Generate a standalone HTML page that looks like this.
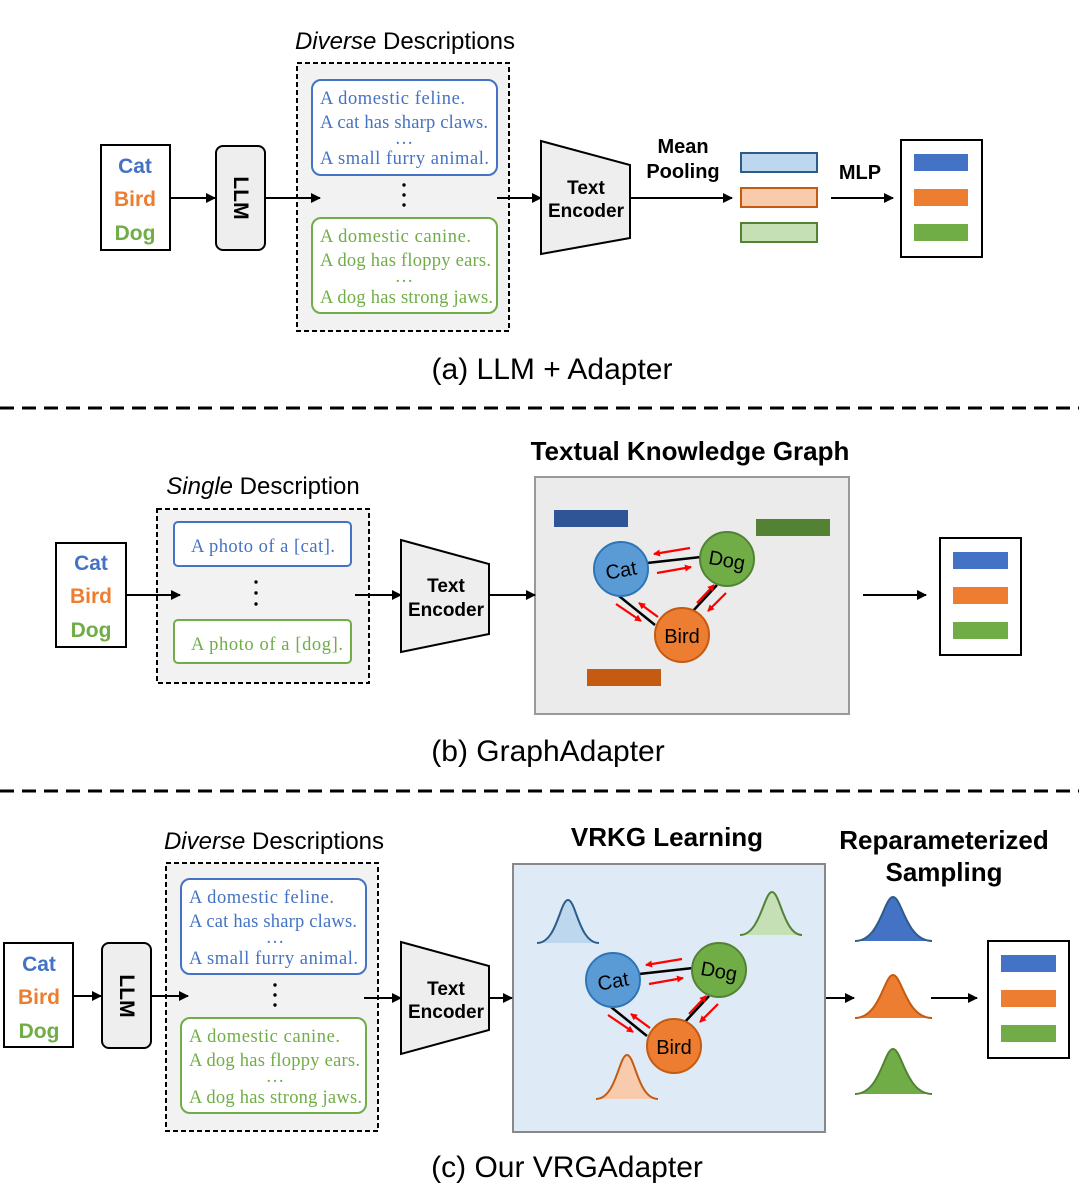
<!DOCTYPE html>
<html><head><meta charset="utf-8"><style>
html,body{margin:0;padding:0;background:#fff}
svg{display:block}
.s{font-family:"Liberation Sans",sans-serif}
.b{font-family:"Liberation Sans",sans-serif;font-weight:bold}
.r{font-family:"Liberation Serif",serif;font-size:18.5px}
</style></head><body>
<svg width="1079" height="1187" viewBox="0 0 1079 1187" xmlns="http://www.w3.org/2000/svg">
<defs>
<marker id="ah" markerWidth="10" markerHeight="10" refX="9" refY="5" orient="auto" markerUnits="userSpaceOnUse"><path d="M0,0 L10,5 L0,10 z" fill="#000"/></marker>
<marker id="rh" markerWidth="7" markerHeight="7" refX="6" refY="3.5" orient="auto" markerUnits="userSpaceOnUse"><path d="M0,0 L7,3.5 L0,7 z" fill="#f00"/></marker>
<g id="graph">
<line x1="647" y1="563" x2="701" y2="557" stroke="#000" stroke-width="2.5"/>
<line x1="619" y1="596" x2="655" y2="625" stroke="#000" stroke-width="2.5"/>
<line x1="717" y1="585" x2="692" y2="612" stroke="#000" stroke-width="2.5"/>
<g stroke="#f00" stroke-width="2.2" marker-end="url(#rh)">
<line x1="690" y1="548" x2="654" y2="554"/>
<line x1="657" y1="573" x2="691" y2="567"/>
<line x1="616" y1="604" x2="641" y2="621"/>
<line x1="658" y1="617" x2="639" y2="603"/>
<line x1="697" y1="603" x2="714" y2="585"/>
<line x1="726" y1="593" x2="708" y2="611"/>
</g>
<circle cx="621" cy="569" r="27" fill="#5b9bd5" stroke="#2e75b6" stroke-width="2"/>
<circle cx="727" cy="559" r="27" fill="#70ad47" stroke="#548235" stroke-width="2"/>
<circle cx="682" cy="635" r="27" fill="#ed7d31" stroke="#c55a11" stroke-width="2"/>
<text x="621" y="577" text-anchor="middle" class="s" font-size="20" transform="rotate(-10 621 570)">Cat</text>
<text x="727" y="567" text-anchor="middle" class="s" font-size="20" transform="rotate(10 727 560)">Dog</text>
<text x="682" y="643" text-anchor="middle" class="s" font-size="20">Bird</text>
</g>
</defs>

<!-- ===== (a) ===== -->
<text x="405" y="49" text-anchor="middle" class="s" font-size="24"><tspan font-style="italic">Diverse</tspan> Descriptions</text>
<rect x="101" y="145" width="69" height="105" fill="#fff" stroke="#000" stroke-width="2"/>
<text x="135" y="173" text-anchor="middle" class="b" font-size="21" fill="#4472c4">Cat</text>
<text x="135" y="206" text-anchor="middle" class="b" font-size="21" fill="#ed7d31">Bird</text>
<text x="135" y="240" text-anchor="middle" class="b" font-size="21" fill="#70ad47">Dog</text>
<rect x="216" y="146" width="49" height="104" rx="7" fill="#eee" stroke="#000" stroke-width="2"/>
<text x="0" y="0" text-anchor="middle" class="b" font-size="21" transform="translate(234 198) rotate(90)">LLM</text>
<rect x="297" y="63" width="212" height="268" fill="#f2f2f2" stroke="#000" stroke-width="2" stroke-dasharray="5,3"/>
<rect x="312" y="80" width="185" height="95" rx="9" fill="#fff" stroke="#4472c4" stroke-width="2"/>
<g class="r" fill="#4472c4"><text x="320" y="104" textLength="145">A domestic feline.</text><text x="320" y="128" textLength="168">A cat has sharp claws.</text><text x="404" y="144" text-anchor="middle">…</text><text x="320" y="164" textLength="169">A small furry animal.</text></g>
<g fill="#000"><circle cx="404" cy="185" r="1.7"/><circle cx="404" cy="195" r="1.7"/><circle cx="404" cy="205" r="1.7"/></g>
<rect x="312" y="218" width="185" height="95" rx="9" fill="#fff" stroke="#70ad47" stroke-width="2"/>
<g class="r" fill="#70ad47"><text x="320" y="242" textLength="151">A domestic canine.</text><text x="320" y="266" textLength="171">A dog has floppy ears.</text><text x="404" y="282" text-anchor="middle">…</text><text x="320" y="303" textLength="173">A dog has strong jaws.</text></g>
<polygon points="541,141 630,165 630,238 541,254" fill="#eee" stroke="#000" stroke-width="2"/>
<text x="586" y="194" text-anchor="middle" class="b" font-size="19">Text</text>
<text x="586" y="217" text-anchor="middle" class="b" font-size="19">Encoder</text>
<text x="683" y="153" text-anchor="middle" class="b" font-size="20">Mean</text>
<text x="683" y="178" text-anchor="middle" class="b" font-size="20">Pooling</text>
<rect x="741" y="153" width="76" height="19" fill="#bdd7ee" stroke="#2e5c8a" stroke-width="2"/>
<rect x="741" y="188" width="76" height="19" fill="#f8cbad" stroke="#c55a11" stroke-width="2"/>
<rect x="741" y="223" width="76" height="19" fill="#c5e0b4" stroke="#548235" stroke-width="2"/>
<text x="860" y="179" text-anchor="middle" class="b" font-size="20">MLP</text>
<rect x="901" y="140" width="81" height="117" fill="#fff" stroke="#000" stroke-width="2"/>
<rect x="914" y="154" width="54" height="17" fill="#4472c4"/>
<rect x="914" y="189" width="54" height="17" fill="#ed7d31"/>
<rect x="914" y="224" width="54" height="17" fill="#70ad47"/>
<g stroke="#000" stroke-width="2" marker-end="url(#ah)">
<line x1="170" y1="198" x2="215" y2="198"/>
<line x1="265" y1="198" x2="320" y2="198"/>
<line x1="497" y1="198" x2="541" y2="198"/>
<line x1="630" y1="198" x2="732" y2="198"/>
<line x1="831" y1="198" x2="893" y2="198"/>
</g>
<text x="552" y="379" text-anchor="middle" class="s" font-size="30">(a) LLM + Adapter</text>
<line x1="0" y1="408" x2="1079" y2="408" stroke="#000" stroke-width="3" stroke-dasharray="14,8"/>

<!-- ===== (b) ===== -->
<text x="263" y="494" text-anchor="middle" class="s" font-size="24"><tspan font-style="italic">Single</tspan> Description</text>
<rect x="56" y="543" width="70" height="104" fill="#fff" stroke="#000" stroke-width="2"/>
<text x="91" y="570" text-anchor="middle" class="b" font-size="21" fill="#4472c4">Cat</text>
<text x="91" y="603" text-anchor="middle" class="b" font-size="21" fill="#ed7d31">Bird</text>
<text x="91" y="637" text-anchor="middle" class="b" font-size="21" fill="#70ad47">Dog</text>
<rect x="157" y="509" width="212" height="174" fill="#f2f2f2" stroke="#000" stroke-width="2" stroke-dasharray="5,3"/>
<rect x="174" y="522" width="177" height="44" rx="4" fill="#fff" stroke="#4472c4" stroke-width="2"/>
<text x="263" y="552" text-anchor="middle" class="r" fill="#4472c4" textLength="144">A photo of a [cat].</text>
<g fill="#000"><circle cx="256" cy="582" r="1.7"/><circle cx="256" cy="593" r="1.7"/><circle cx="256" cy="604" r="1.7"/></g>
<rect x="174" y="620" width="177" height="43" rx="4" fill="#fff" stroke="#70ad47" stroke-width="2"/>
<text x="267" y="650" text-anchor="middle" class="r" fill="#70ad47" textLength="152">A photo of a [dog].</text>
<polygon points="401,540 489,564 489,634 401,652" fill="#eee" stroke="#000" stroke-width="2"/>
<text x="446" y="592" text-anchor="middle" class="b" font-size="19">Text</text>
<text x="446" y="616" text-anchor="middle" class="b" font-size="19">Encoder</text>
<text x="690" y="460" text-anchor="middle" class="b" font-size="26">Textual Knowledge Graph</text>
<rect x="535" y="477" width="314" height="237" fill="#ebebeb" stroke="#999" stroke-width="2"/>
<rect x="554" y="510" width="74" height="17" fill="#2f5597"/>
<rect x="756" y="519" width="74" height="17" fill="#548235"/>
<rect x="587" y="669" width="74" height="17" fill="#c55a11"/>
<use href="#graph"/>
<rect x="940" y="538" width="81" height="117" fill="#fff" stroke="#000" stroke-width="2"/>
<rect x="953" y="552" width="55" height="17" fill="#4472c4"/>
<rect x="953" y="587" width="55" height="17" fill="#ed7d31"/>
<rect x="953" y="622" width="55" height="17" fill="#70ad47"/>
<g stroke="#000" stroke-width="2" marker-end="url(#ah)">
<line x1="126" y1="595" x2="180" y2="595"/>
<line x1="355" y1="595" x2="401" y2="595"/>
<line x1="489" y1="595" x2="535" y2="595"/>
<line x1="863" y1="595" x2="926" y2="595"/>
</g>
<text x="548" y="761" text-anchor="middle" class="s" font-size="30">(b) GraphAdapter</text>
<line x1="0" y1="791" x2="1079" y2="791" stroke="#000" stroke-width="3" stroke-dasharray="14,8"/>

<!-- ===== (c) ===== -->
<text x="274" y="849" text-anchor="middle" class="s" font-size="24"><tspan font-style="italic">Diverse</tspan> Descriptions</text>
<rect x="4" y="943" width="69" height="104" fill="#fff" stroke="#000" stroke-width="2"/>
<text x="39" y="971" text-anchor="middle" class="b" font-size="21" fill="#4472c4">Cat</text>
<text x="39" y="1004" text-anchor="middle" class="b" font-size="21" fill="#ed7d31">Bird</text>
<text x="39" y="1038" text-anchor="middle" class="b" font-size="21" fill="#70ad47">Dog</text>
<rect x="102" y="943" width="49" height="105" rx="7" fill="#eee" stroke="#000" stroke-width="2"/>
<text x="0" y="0" text-anchor="middle" class="b" font-size="21" transform="translate(120 996) rotate(90)">LLM</text>
<rect x="166" y="863" width="212" height="268" fill="#f2f2f2" stroke="#000" stroke-width="2" stroke-dasharray="5,3"/>
<rect x="181" y="879" width="185" height="95" rx="9" fill="#fff" stroke="#4472c4" stroke-width="2"/>
<g class="r" fill="#4472c4"><text x="189" y="903" textLength="145">A domestic feline.</text><text x="189" y="927" textLength="168">A cat has sharp claws.</text><text x="275" y="943" text-anchor="middle">…</text><text x="189" y="964" textLength="169">A small furry animal.</text></g>
<g fill="#000"><circle cx="275" cy="985" r="1.7"/><circle cx="275" cy="995" r="1.7"/><circle cx="275" cy="1005" r="1.7"/></g>
<rect x="181" y="1018" width="185" height="95" rx="9" fill="#fff" stroke="#70ad47" stroke-width="2"/>
<g class="r" fill="#70ad47"><text x="189" y="1042" textLength="151">A domestic canine.</text><text x="189" y="1066" textLength="171">A dog has floppy ears.</text><text x="275" y="1082" text-anchor="middle">…</text><text x="189" y="1103" textLength="173">A dog has strong jaws.</text></g>
<polygon points="401,942 489,966 489,1030 401,1054" fill="#eee" stroke="#000" stroke-width="2"/>
<text x="446" y="995" text-anchor="middle" class="b" font-size="19">Text</text>
<text x="446" y="1018" text-anchor="middle" class="b" font-size="19">Encoder</text>
<text x="667" y="846" text-anchor="middle" class="b" font-size="26">VRKG Learning</text>
<rect x="513" y="864" width="312" height="268" fill="#deeaf6" stroke="#888" stroke-width="2"/>
<path d="M537,943 C557,943 560,900 568,900 C576,900 579,943 599,943" fill="#bdd7ee" stroke="#2e5c8a" stroke-width="2"/>
<path d="M740,935 C760,935 764,892 772,892 C780,892 784,935 802,935" fill="#c5e0b4" stroke="#548235" stroke-width="2"/>
<path d="M596,1099 C616,1099 619,1055 627,1055 C635,1055 638,1099 658,1099" fill="#f8cbad" stroke="#c55a11" stroke-width="2"/>
<use href="#graph" transform="translate(-8 411)"/>
<text x="944" y="849" text-anchor="middle" class="b" font-size="26">Reparameterized</text>
<text x="944" y="881" text-anchor="middle" class="b" font-size="26">Sampling</text>
<path d="M855,941 C880,941 884,897 893,897 C902,897 906,941 932,941" fill="#4472c4" stroke="#2e5c8a" stroke-width="2"/>
<path d="M855,1018 C880,1018 884,975 893,975 C902,975 906,1018 932,1018" fill="#ed7d31" stroke="#c55a11" stroke-width="2"/>
<path d="M855,1094 C880,1094 884,1049 893,1049 C902,1049 906,1094 932,1094" fill="#70ad47" stroke="#548235" stroke-width="2"/>
<rect x="988" y="941" width="81" height="117" fill="#fff" stroke="#000" stroke-width="2"/>
<rect x="1001" y="955" width="55" height="17" fill="#4472c4"/>
<rect x="1001" y="990" width="55" height="17" fill="#ed7d31"/>
<rect x="1001" y="1025" width="55" height="17" fill="#70ad47"/>
<g stroke="#000" stroke-width="2" marker-end="url(#ah)">
<line x1="73" y1="996" x2="101" y2="996"/>
<line x1="151" y1="996" x2="188" y2="996"/>
<line x1="364" y1="998" x2="401" y2="998"/>
<line x1="489" y1="998" x2="512" y2="998"/>
<line x1="826" y1="998" x2="854" y2="998"/>
<line x1="931" y1="998" x2="977" y2="998"/>
</g>
<text x="567" y="1177" text-anchor="middle" class="s" font-size="30">(c) Our VRGAdapter</text>
</svg>
</body></html>
